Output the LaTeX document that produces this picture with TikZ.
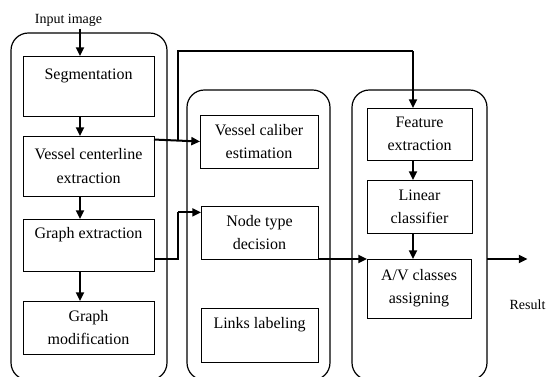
\documentclass[tikz,border=0pt]{standalone}
\usepackage{fontspec}
\setmainfont{Liberation Serif}
\usetikzlibrary{arrows.meta}

\begin{document}
\begin{tikzpicture}[x=0.75pt, y=-0.75pt,
	box/.style={rectangle, draw=black, line width=0.7pt, align=center, inner sep=0pt, outer sep=0pt, font=\fontsize{12}{17.5}\selectfont},
	group/.style={rectangle, draw=black, line width=0.9pt, rounded corners=13pt, inner sep=0pt, outer sep=0pt},
	flow/.style={draw=black, line width=1.5pt, -{Triangle[length=6.5pt,width=6pt]}},
	link/.style={draw=black, line width=0.9pt},
	lbl/.style={inner sep=0pt, outer sep=2pt, font=\fontsize{10.5}{12}\selectfont}]
			\clip (0,0) rectangle (546,376);
			
			% three stages
			\node[group, minimum width=117pt, minimum height=260.25pt] (left) at (89,206.5){};
			\node[group, minimum width=107.25pt, minimum height=217.5pt] (middle) at (258.5,235){};
			\node[group, minimum width=101.25pt, minimum height=217.5pt] (right) at (419.5,235){};
			
			\node[box, minimum width=98.25pt, minimum height=45pt] (seg) at (88.5,86){Segmentation\\\mbox{}};
			\node[box, minimum width=98.25pt, minimum height=45pt] (vc) at (88.5,166){Vessel centerline\\extraction};
			\node[box, minimum width=98.25pt, minimum height=39pt] (ge) at (88.5,245){Graph extraction\\\mbox{}};
			\node[box, minimum width=98.25pt, minimum height=39.75pt] (gm) at (88.5,327.5){Graph\\modification};
			
			\node[box, minimum width=88.5pt, minimum height=39.75pt] (cal) at (259,141.5){Vessel caliber\\estimation};
			\node[box, minimum width=87.75pt, minimum height=39.75pt] (nt) at (259.5,232.5){Node type\\decision};
			\node[box, minimum width=87.75pt, minimum height=40.5pt] (ll) at (259.5,335){Links labeling\\\mbox{}};
			
			\node[box, minimum width=78.75pt, minimum height=39pt] (fe) at (419.5,134){Feature\\extraction};
			\node[box, minimum width=78.75pt, minimum height=39.75pt] (lc) at (419.5,206.5){Linear\\classifier};
			\node[box, minimum width=78pt, minimum height=44.25pt] (av) at (419,288.5){A/V classes\\assigning};
			
			\node[lbl] (input) at (68.5,20){Input image};
			\node[lbl] (res) at (527.5,305){Result};
			
			\coordinate (laxis) at (80,0);
			\coordinate (raxis) at (413,0);
			\coordinate (top1) at (178,51);
			
			% connectors
			\draw[flow] (laxis |- input.south) -- (laxis |- seg.north);
			\draw[flow] (laxis |- seg.south) -- (laxis |- vc.north);
			\draw[flow] (laxis |- vc.south) -- (laxis |- ge.north);
			\draw[flow] (laxis |- ge.south) -- (laxis |- gm.north);
			
			\draw[flow] (vc.22) -- (cal.west);
			\draw[link] (vc.22 -| top1) -- (top1) -- (top1 -| raxis);
			\draw[flow] (top1 -| raxis) -- (raxis |- fe.north);
			
			\draw[link] (ge.348) -| (top1 |- nt.161);
			\draw[flow] (top1 |- nt.161) -- (nt.161);
			
			\draw[flow] (nt.south east) -- (av.north west);
			\draw[flow] (raxis |- fe.south) -- (raxis |- lc.north);
			\draw[flow] (raxis |- lc.south) -- (raxis |- av.north);
			\draw[flow] (right.east |- av.north) -- (res.north |- av.north);
			\end{tikzpicture}
\end{document}
